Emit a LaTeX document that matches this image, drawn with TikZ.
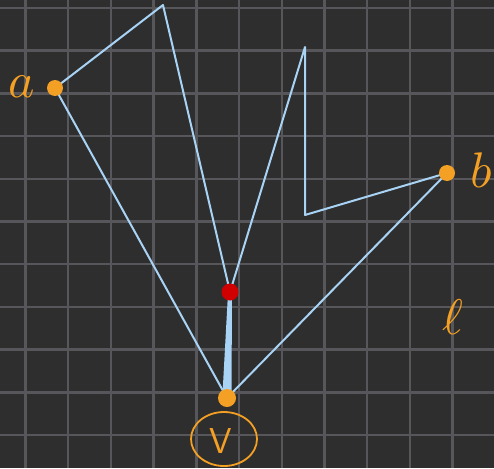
\documentclass[tikz,border=0pt]{standalone}
\begin{document}
\begin{tikzpicture}[x=1pt,y=-1pt,
  edge/.style={draw=lineblue,line width=2pt,line join=round,line cap=round},
  odot/.style={circle,fill=dotorange,inner sep=0pt,minimum size=16pt},
  lbl/.style={text=dotorange,scale=5,inner sep=0pt}]
\definecolor{bg}{HTML}{2E2E2E}
\definecolor{gridc}{HTML}{57575B}
\definecolor{lineblue}{HTML}{A9D3F5}
\definecolor{dotorange}{HTML}{F4A024}
\definecolor{redc}{HTML}{D00000}
\useasboundingbox (0,0) rectangle (494,468);
\fill[bg] (0,0) rectangle (494,468);
\foreach \i in {0,...,11} {
  \draw[gridc,line width=2.4pt] ({25.5+42.7*\i},0) -- ({25.5+42.7*\i},468);
  \draw[gridc,line width=2.4pt] (0,{8+42.7*\i}) -- (494,{8+42.7*\i});
}
% vertices
\coordinate (p1) at (163,5);
\coordinate (p2) at (305,47);
\coordinate (c2) at (305,215);
\coordinate (r) at (230,292);
\coordinate (a) at (55,88);
\coordinate (b) at (447,173);
\coordinate (v) at (227,398);
% edges
\draw[edge] (a) -- (p1) -- (r) -- (p2) -- (c2) -- (b);
\draw[edge] (a) -- (v);
\draw[edge] (b) -- (v);
% thick wedge
\fill[lineblue] (228,293) -- (232,293) -- (231.5,394) -- (222.5,394) -- cycle;
% points
\node[circle,fill=redc,inner sep=0pt,minimum width=14pt,minimum height=17pt] (rdot) at (r) {};
\node[odot] (adot) at (a) {};
\node[odot] (bdot) at (b) {};
\node[odot,minimum size=18pt] (vdot) at (v) {};
% labels
\node[lbl] (la) at (22,87) {$a$};
\node[lbl] (lb) at (481,170) {$b$};
\node[lbl] (ll) at (453,317) {$\ell$};
\node[text=dotorange,font=\fontsize{36}{36}\selectfont\sffamily,inner sep=0pt] (lv) at (221,441) {V};
\draw[dotorange,line width=1.8pt] (224,439) ellipse [x radius=33pt,y radius=27pt];
\end{tikzpicture}
\end{document}
